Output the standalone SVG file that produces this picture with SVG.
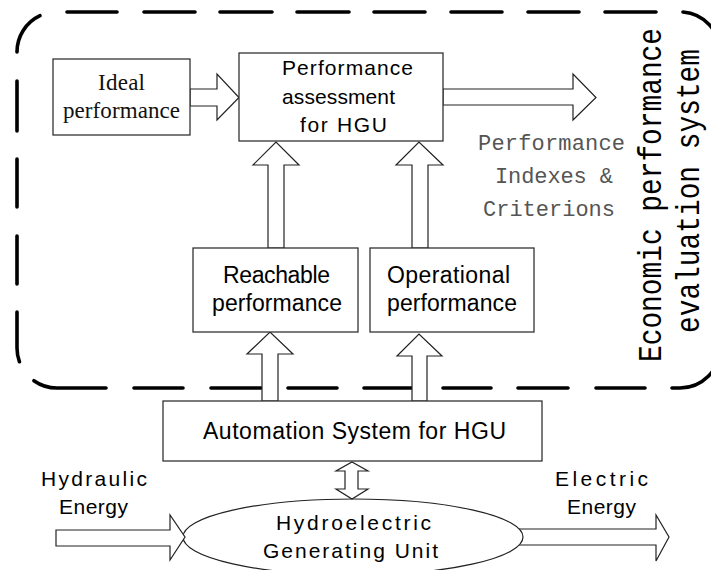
<svg xmlns="http://www.w3.org/2000/svg" width="711" height="570" viewBox="0 0 711 570">
<style>
.box{fill:#fff;stroke:#333;stroke-width:1.3}
.arr{fill:#fff;stroke:#222;stroke-width:1.2;stroke-linejoin:miter}
.dash{fill:none;stroke:#000;stroke-width:3.6;stroke-linecap:round}
.sans{font-family:"Liberation Sans",Arial,sans-serif;fill:#000}
.serif{font-family:"Liberation Serif","Times New Roman",serif;fill:#111;font-size:23px}
.mono{font-family:"Liberation Mono","Courier New",monospace}
</style>
<rect width="711" height="570" fill="#fff"/>

<g id="border">
<path class="dash" d="M67,12H117M144,12H195M220,12H272M297,12H349M374,12H425M451,12H502M528,12H579M605,12H656"/>
<path class="dash" d="M17,52A40,40 0 0 1 40,15.7"/>
<path class="dash" d="M683,12A40,40 0 0 1 720,52"/>
<path class="dash" d="M17,81V131M17,159V207M17,236V284M17,312V348A40,40 0 0 0 19.4,361.7"/>
<path class="dash" d="M33.9,380.7A40,40 0 0 0 57,388H106"/>
<path class="dash" d="M134,388H183M211,388H261M288,388H337M364,388H414M443,388H491M518,388H568M596,388H645"/>
<path class="dash" d="M672,388H680A40,40 0 0 0 720,348"/>
</g>

<g id="connectors">
<polygon class="arr" points="190,89 217,89 217,74 239,97.5 217,120 217,106 190,106"/>
<polygon class="arr" points="443,89 573,89 573,74 596,97.5 573,120 573,105 443,105"/>
<polygon class="arr" points="268,248 268,165 253,165 276,142 299,165 284,165 284,248"/>
<polygon class="arr" points="412,248 412,165 396,165 419,142 443,165 428,165 428,248"/>
<polygon class="arr" points="262,401 262,354 247,354 270,332 293,354 278,354 278,401"/>
<polygon class="arr" points="412,401 412,356 397,356 419,334 442,356 427,356 427,401"/>
<polygon class="arr" points="352,462 368,471 358,471 358,489 368,489 352,499 336,489 345,489 345,471 336,471"/>
<path class="arr" d="M519,529H656V515L669,537L656,561V545H519"/>
</g>

<g id="hgu">
<ellipse cx="353" cy="537" rx="170" ry="38" fill="none" stroke="#222" stroke-width="1.2"/>
<text class="sans" font-size="21" x="276" y="530" textLength="155">Hydroelectric</text>
<text class="sans" font-size="21" x="263" y="558" textLength="175">Generating Unit</text>
</g>
<g id="hydraulic-arrow">
<polygon class="arr" points="56,530 170,530 170,515 185,537 170,560 170,546 56,546"/>
</g>

<g id="ideal">
<rect class="box" x="53" y="59" width="137" height="76"/>
<text class="serif" x="98" y="90" textLength="47">Ideal</text>
<text class="serif" x="63" y="118" textLength="117">performance</text>
</g>

<g id="assessment">
<rect class="box" x="239" y="53" width="204" height="88"/>
<text class="sans" font-size="21" x="282" y="75" textLength="131">Performance</text>
<text class="sans" font-size="21" x="282" y="104" textLength="113">assessment</text>
<text class="sans" font-size="21" x="300" y="132" textLength="87">for HGU</text>
</g>

<g id="reachable">
<rect class="box" x="193" y="248" width="165" height="84"/>
<text class="sans" font-size="23" x="223" y="283" textLength="107">Reachable</text>
<text class="sans" font-size="23" x="212" y="311" textLength="130">performance</text>
</g>

<g id="operational">
<rect class="box" x="370" y="248" width="164" height="84"/>
<text class="sans" font-size="23" x="387" y="283" textLength="123">Operational</text>
<text class="sans" font-size="23" x="387" y="311" textLength="130">performance</text>
</g>

<g id="automation">
<rect class="box" x="163" y="401" width="379" height="60"/>
<text class="sans" font-size="23" x="203" y="439" textLength="303">Automation System for HGU</text>
</g>

<g id="indexes">
<text class="mono" font-size="22" fill="#555" x="478" y="150" textLength="147">Performance</text>
<text class="mono" font-size="22" fill="#555" x="495" y="183" textLength="118">Indexes &amp;</text>
<text class="mono" font-size="22" fill="#555" x="483" y="216" textLength="132">Criterions</text>
</g>

<g id="system-label">
<text class="mono" font-size="34" fill="#000" text-anchor="middle" transform="translate(661,195) rotate(-90)" textLength="334" lengthAdjust="spacingAndGlyphs">Economic performance</text>
<text class="mono" font-size="34" fill="#000" text-anchor="middle" transform="translate(699,191) rotate(-90)" textLength="284" lengthAdjust="spacingAndGlyphs">evaluation system</text>
</g>

<g id="hydraulic-label">
<text class="sans" font-size="21" x="41" y="486" textLength="106">Hydraulic</text>
<text class="sans" font-size="21" x="59" y="514" textLength="69">Energy</text>
</g>
<g id="electric-label">
<text class="sans" font-size="21" x="555" y="486" textLength="93">Electric</text>
<text class="sans" font-size="21" x="567" y="514" textLength="69">Energy</text>
</g>
</svg>
